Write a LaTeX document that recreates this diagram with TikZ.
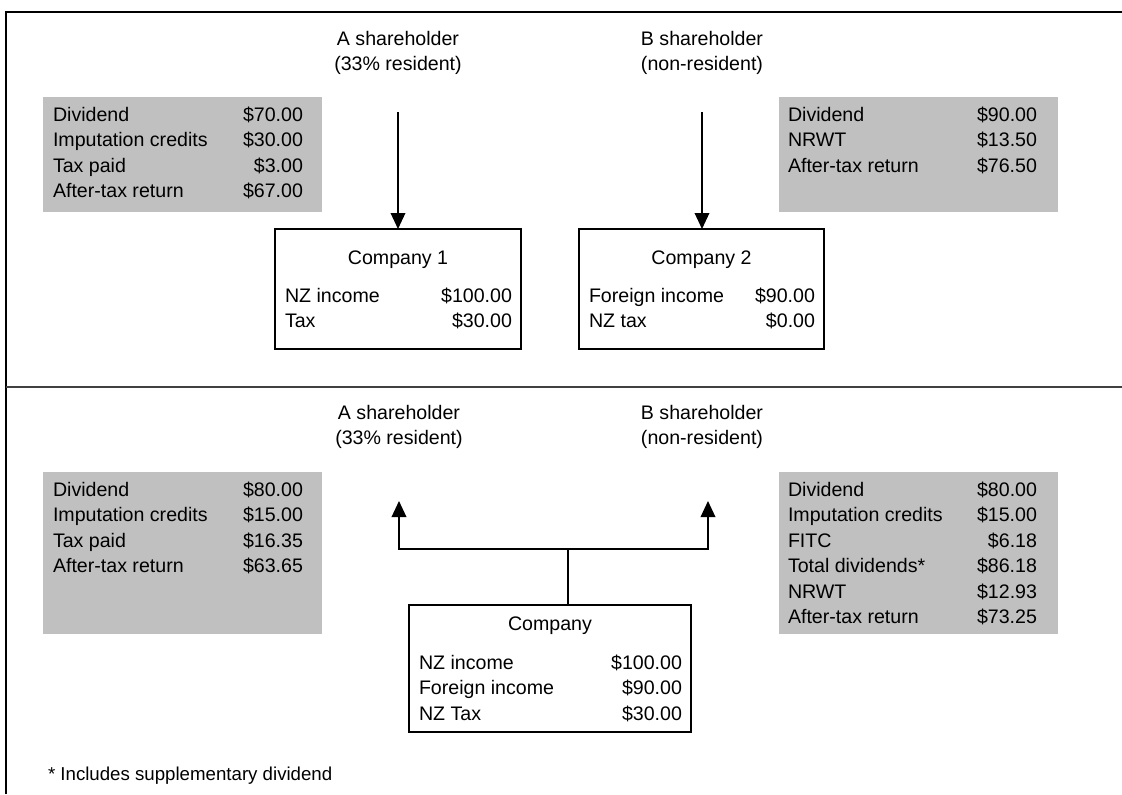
\documentclass[tikz,border=0pt]{standalone}
\usepackage{fontspec}
\setmainfont{Liberation Sans}
\usetikzlibrary{arrows.meta}
\definecolor{boxgray}{RGB}{192,192,192}
\newcommand\mytab[2]{\begin{tabular*}{#1}[t]{@{}l@{\extracolsep{\fill}}r@{}}#2\end{tabular*}}
\begin{document}
\begin{tikzpicture}[x=0.75pt,y=-0.75pt,
  every node/.style={font=\fontsize{14.7pt}{19.1pt}\selectfont, inner sep=0pt, outer sep=0pt},
  graybox/.style={fill=boxgray, draw=none, minimum width=209.25pt},
  cobox/.style={draw=black, line width=1pt, fill=white},
  tbl/.style={anchor=base west},
  lab/.style={anchor=base, align=center},
  arr/.style={line width=1pt, -{Triangle[width=11pt,length=12pt]}},
  conn/.style={line width=1pt}]
\useasboundingbox (0,0) rectangle (1122,794);
% frame
\draw[line width=1.1pt] (6,794) -- (6,12) -- (1122,12);
\draw[line width=0.8pt, black!75] (6,387) -- (1122,387);

% ---------- top section ----------
\node[graybox, minimum height=86.25pt] (g1) at (182.5,154.5) {};
\node[tbl] (t1) at (53,121.5) {\mytab{187.5pt}{Dividend & \$70.00\\ Imputation credits & \$30.00\\ Tax paid & \$3.00\\ After-tax return & \$67.00}};

\node[graybox, minimum height=86.25pt] (g2) at (918.5,154.5) {};
\node[tbl] (t2) at (788,121.5) {\mytab{186.75pt}{Dividend & \$90.00\\ NRWT & \$13.50\\ After-tax return & \$76.50}};

\node[lab] (A1) at (398,70.5) {A shareholder\\(33\% resident)};
\node[lab] (B1) at (702,70.5) {B shareholder\\(non-resident)};

\node[cobox, minimum width=184.5pt, minimum height=90pt] (C1) at (398,289) {};
\node[anchor=base] (C1t) at (398,264.5) {Company 1};
\node[tbl] (C1r) at (285,302.5) {\mytab{170.25pt}{NZ income & \$100.00\\ Tax & \$30.00}};

\node[cobox, minimum width=183.75pt, minimum height=90pt] (C2) at (701.5,289) {};
\node[anchor=base] (C2t) at (701.5,264.5) {Company 2};
\node[tbl] (C2r) at (589,302.5) {\mytab{169.5pt}{Foreign income & \$90.00\\ NZ tax & \$0.00}};

\coordinate (a1) at (398,112);
\coordinate (b1) at (702,112);
\draw[arr] (a1) -- (C1.north);
\draw[arr] (b1) -- (b1 |- C2.north);

% ---------- bottom section ----------
\node[graybox, minimum height=121.5pt] (g3) at (182.5,553) {};
\node[tbl] (t3) at (53,496.5) {\mytab{187.5pt}{Dividend & \$80.00\\ Imputation credits & \$15.00\\ Tax paid & \$16.35\\ After-tax return & \$63.65}};

\node[graybox, minimum height=121.5pt] (g4) at (918.5,553) {};
\node[tbl] (t4) at (788,496.5) {\mytab{186.75pt}{Dividend & \$80.00\\ Imputation credits & \$15.00\\ FITC & \$6.18\\ Total dividends* & \$86.18\\ NRWT & \$12.93\\ After-tax return & \$73.25}};

\node[lab] (A2) at (399,444.5) {A shareholder\\(33\% resident)};
\node[lab] (B2) at (702,444.5) {B shareholder\\(non-resident)};

\node[cobox, minimum width=211.5pt, minimum height=95.25pt] (Co) at (550,668.5) {};
\node[anchor=base] (Cot) at (550,630.5) {Company};
\node[tbl] (Cor) at (419,669.5) {\mytab{197.25pt}{NZ income & \$100.00\\ Foreign income & \$90.00\\ NZ Tax & \$30.00}};

\coordinate (J) at (568,549);
\coordinate (a2) at (399,501);
\coordinate (b2) at (708,501);
\draw[conn] (J |- Co.north) -- (J);
\draw[arr] (J) -| (a2);
\draw[arr] (J) -| (b2);

\node[anchor=base west, font=\fontsize{14pt}{17pt}\selectfont] (fn) at (48,780.5) {* Includes supplementary dividend};
\end{tikzpicture}
\end{document}
